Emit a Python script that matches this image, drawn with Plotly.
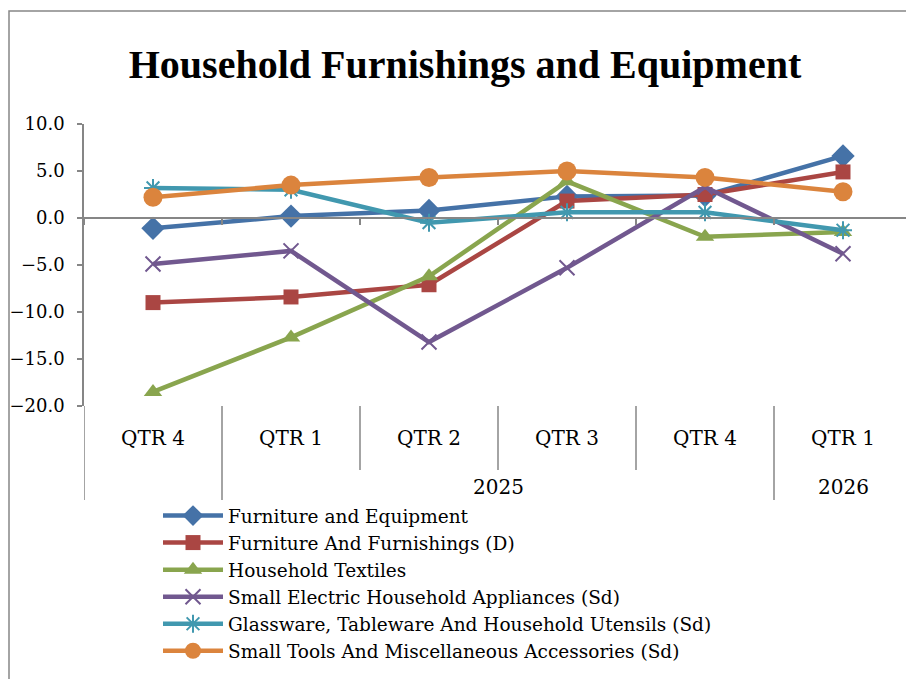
import plotly.graph_objects as go

# category labels (two levels, first quarter has no year shown)
quarters = ["QTR 4", "QTR 1", "QTR 2", "QTR 3", "QTR 4", "QTR 1"]
years = ["", "2025", "2025", "2025", "2025", "2026"]

furniture_equipment = [-1.1, 0.2, 0.8, 2.3, 2.4, 6.6]
furniture_furnishings = [-9.0, -8.4, -7.1, 1.8, 2.5, 4.9]
household_textiles = [-18.5, -12.7, -6.2, 3.9, -2.0, -1.5]
small_electric = [-4.9, -3.5, -13.2, -5.3, 3.3, -3.8]
glassware_utensils = [3.2, 3.0, -0.5, 0.6, 0.6, -1.3]
small_tools = [2.2, 3.5, 4.3, 5.0, 4.3, 2.8]

series = [
    ("Furniture and Equipment", furniture_equipment, "#4572A7", "diamond", 18),
    ("Furniture And Furnishings (D)", furniture_furnishings, "#AA4643", "square", 15),
    ("Household Textiles", household_textiles, "#89A54E", "triangle-up", 16),
    ("Small Electric Household Appliances (Sd)", small_electric, "#71588F", "x-thin-open", 15),
    ("Glassware, Tableware And Household Utensils (Sd)", glassware_utensils, "#4198AF", "asterisk-open", 15),
    ("Small Tools And Miscellaneous Accessories (Sd)", small_tools, "#DB843D", "circle", 19),
]

# page coordinates (the figure sits 8px in from the window corner)
OFF = 8
SW, SH = 914, 679
W, H = SW - OFF, SH - OFF
L, R, T, B = 84, 912, 124, 406
Y_MIN, Y_MAX = -20, 10
AXIS = "#868686"
FONT = "DejaVu Serif"
TITLE_FONT = "Liberation Serif"


def px(x):
    return (x - L) / (R - L)


def py(y):
    return (B - y) / (B - T)


fig = go.Figure()
xs = list(range(len(quarters)))
for name, vals, color, sym, size in series:
    open_sym = sym.endswith("open")
    fig.add_trace(go.Scatter(
        x=xs, y=vals, name=name, mode="lines+markers",
        line=dict(color=color, width=4.5),
        marker=dict(symbol=sym, size=size, color=color,
                    line=dict(color=color, width=2 if open_sym else 0)),
    ))

# separators under the plot
shapes = []
n = len(quarters)
for k in range(n + 1):
    edge = k == 0 or k == n or years[k] != years[k - 1]
    shapes.append(dict(type="line", xref="x", yref="paper",
                       x0=k - 0.5, x1=k - 0.5, y0=0, y1=py(500 if edge else 470),
                       line=dict(color=AXIS, width=1.5)))
# outer chart border
shapes.append(dict(type="rect", xref="paper", yref="paper",
                   x0=px(9), x1=px(SW + 20), y0=py(SH + 20), y1=py(11),
                   line=dict(color=AXIS, width=1.5), fillcolor="rgba(0,0,0,0)"))

annotations = []
for i, q in enumerate(quarters):
    annotations.append(dict(x=i, y=py(438), xref="x", yref="paper", text=q,
                            showarrow=False, yanchor="middle",
                            font=dict(family=FONT, size=20, color="#000")))
groups = {}
for i, yr in enumerate(years):
    if yr:
        groups.setdefault(yr, []).append(i)
for yr, idx in groups.items():
    annotations.append(dict(x=sum(idx) / len(idx), y=py(487), xref="x", yref="paper",
                            text=yr, showarrow=False, yanchor="middle",
                            font=dict(family=FONT, size=20, color="#000")))

fig.update_layout(
    width=W, height=H,
    margin=dict(l=L - OFF, r=SW - R, t=T - OFF, b=SH - B, autoexpand=False),
    plot_bgcolor="#fff", paper_bgcolor="#fff",
    title=dict(text="<b>Household Furnishings and Equipment</b>",
               x=(465 - OFF) / W, xanchor="center", y=1 - (64 - OFF) / H, yanchor="middle",
               font=dict(family=TITLE_FONT, size=40, color="#000")),
    xaxis=dict(range=[-0.5, n - 0.5], tickvals=[k - 0.5 for k in range(n + 1)],
               showticklabels=False, ticks="outside", ticklen=6, tickcolor=AXIS,
               tickwidth=1.5, showline=True, linecolor=AXIS, linewidth=1.5,
               showgrid=False, zeroline=False, anchor="free",
               position=(0 - Y_MIN) / (Y_MAX - Y_MIN)),
    yaxis=dict(range=[Y_MIN, Y_MAX], dtick=5, tickformat=".1f", showgrid=False,
               zeroline=False, showline=True, linecolor=AXIS, linewidth=1.5,
               ticks="outside", ticklen=5, tickcolor=AXIS, tickwidth=1.5,
               ticklabelstandoff=9,
               tickfont=dict(family=FONT, size=18, color="#000")),
    legend=dict(x=px(158), y=py(497), xanchor="left", yanchor="top",
                font=dict(family=FONT, size=18.5, color="#000"),
                bgcolor="rgba(0,0,0,0)", tracegroupgap=0, itemwidth=60),
    shapes=shapes, annotations=annotations,
    showlegend=True,
)

fig.write_html("out.html")
